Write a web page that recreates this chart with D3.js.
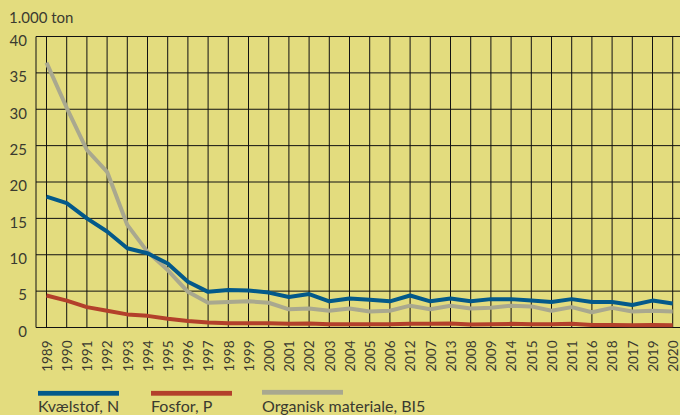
<!DOCTYPE html>
<html>
<head>
<meta charset="utf-8">
<script src="https://cdn.jsdelivr.net/npm/d3@7"></script>
<style>
  html, body { margin: 0; padding: 0; background: #e3dc7e; }
  svg { display: block; }
  text { font-family: Lato, "Noto Sans", sans-serif; fill: #3a3a30; }
</style>
</head>
<body>
<svg id="chart" width="680" height="415"></svg>
<script>
// Years in the order they are reported
const years = ["1989","1990","1991","1992","1993","1994","1995","1996","1997","1998","1999",
  "2000","2001","2002","2003","2004","2005","2006","2012","2007","2013","2008","2009",
  "2014","2015","2010","2011","2016","2018","2017","2019","2020"];

// Discharges, 1.000 ton
const nitrogen = [18.0,17.1,15.0,13.2,10.9,10.2,8.8,6.3,4.9,5.15,5.1,
  4.8,4.2,4.6,3.6,4.0,3.8,3.6,4.4,3.6,4.0,3.6,3.9,
  3.9,3.7,3.5,3.9,3.5,3.5,3.1,3.7,3.3];
const phosphorus = [4.4,3.7,2.8,2.3,1.8,1.6,1.2,0.9,0.7,0.6,0.6,
  0.6,0.5,0.55,0.45,0.45,0.45,0.45,0.5,0.5,0.55,0.4,0.45,
  0.5,0.45,0.45,0.5,0.35,0.35,0.3,0.35,0.3];
const organic = [36.4,30.2,24.4,21.4,14.1,10.4,7.9,4.9,3.4,3.5,3.6,
  3.4,2.5,2.6,2.3,2.6,2.2,2.3,3.0,2.5,3.0,2.6,2.7,
  3.0,2.9,2.3,2.8,2.1,2.7,2.2,2.3,2.2];

const yTicks = [0,5,10,15,20,25,30,35,40];
const unitLabel = "1.000 ton";

const seriesNames = ["Kvælstof, N", "Fosfor, P", "Organisk materiale, BI5"];
const seriesColors = ["#03598a", "#b3402b", "#a9a88f"];

const svg = d3.select("#chart");
const W = 680;
const plotLeft = 36, plotTop = 36.5, plotBottom = 327.5;

const x = d3.scalePoint().domain(years).range([46.5, 672.7]);
const y = d3.scaleLinear().domain([0, 40]).range([plotBottom, plotTop]);

// Grid
const grid = svg.append("g");
grid.selectAll("line.h").data(yTicks).join("line")
  .attr("x1", plotLeft).attr("x2", W)
  .attr("y1", d => y(d)).attr("y2", d => y(d))
  .attr("stroke", "#111").attr("stroke-width", 1);
grid.selectAll("line.v").data(years).join("line")
  .attr("x1", d => x(d)).attr("x2", d => x(d))
  .attr("y1", plotTop).attr("y2", plotBottom)
  .attr("stroke", "#111").attr("stroke-width", 1);
grid.append("line")
  .attr("x1", plotLeft).attr("x2", plotLeft)
  .attr("y1", plotTop).attr("y2", plotBottom)
  .attr("stroke", "#111").attr("stroke-width", 1);

// Y axis labels
const yAxis = d3.axisLeft(y).tickValues(yTicks).tickSize(0).tickPadding(9);
const yg = svg.append("g").attr("transform", `translate(${plotLeft},0)`).call(yAxis);
yg.select(".domain").remove();
yg.selectAll("text")
  .attr("font-size", 15).attr("dy", "0.72em").attr("y", -2)
  .style("font-family", "Lato, 'Noto Sans', sans-serif").attr("fill", "#3a3a30");

// X axis labels, rotated
const xAxis = d3.axisBottom(x).tickSize(0).tickPadding(0);
const xg = svg.append("g").attr("transform", `translate(0,${plotBottom})`).call(xAxis);
xg.select(".domain").remove();
xg.selectAll("text")
  .attr("font-size", 13.5)
  .attr("transform", "rotate(-90)")
  .attr("text-anchor", "end")
  .attr("x", -13).attr("y", 0).attr("dy", "0.36em")
  .style("font-family", "Lato, 'Noto Sans', sans-serif").attr("fill", "#3a3a30");

// Unit label
svg.append("text").attr("x", 9).attr("y", 23).attr("font-size", 15).text(unitLabel);

// Lines
const line = d3.line().x((d, i) => x(years[i])).y(d => y(d));
const data = [nitrogen, phosphorus, organic];
// draw order: phosphorus, organic, nitrogen
[1, 2, 0].forEach(k => {
  svg.append("path").datum(data[k])
    .attr("d", line)
    .attr("fill", "none")
    .attr("stroke", seriesColors[k])
    .attr("stroke-width", 4)
    .attr("stroke-linejoin", "round");
});

// Legend
const legendX = [38, 151, 262];
const legendY = [393.3, 393.3, 392.3];
const legendTextY = [411.5, 412, 412];
const lg = svg.append("g");
seriesNames.forEach((name, i) => {
  lg.append("rect").attr("x", legendX[i]).attr("y", legendY[i] - 2.4)
    .attr("width", 81).attr("height", 4.8).attr("fill", seriesColors[i]);
  lg.append("text").attr("x", legendX[i]).attr("y", legendTextY[i])
    .attr("font-size", 16).text(name);
});
</script>
</body>
</html>
